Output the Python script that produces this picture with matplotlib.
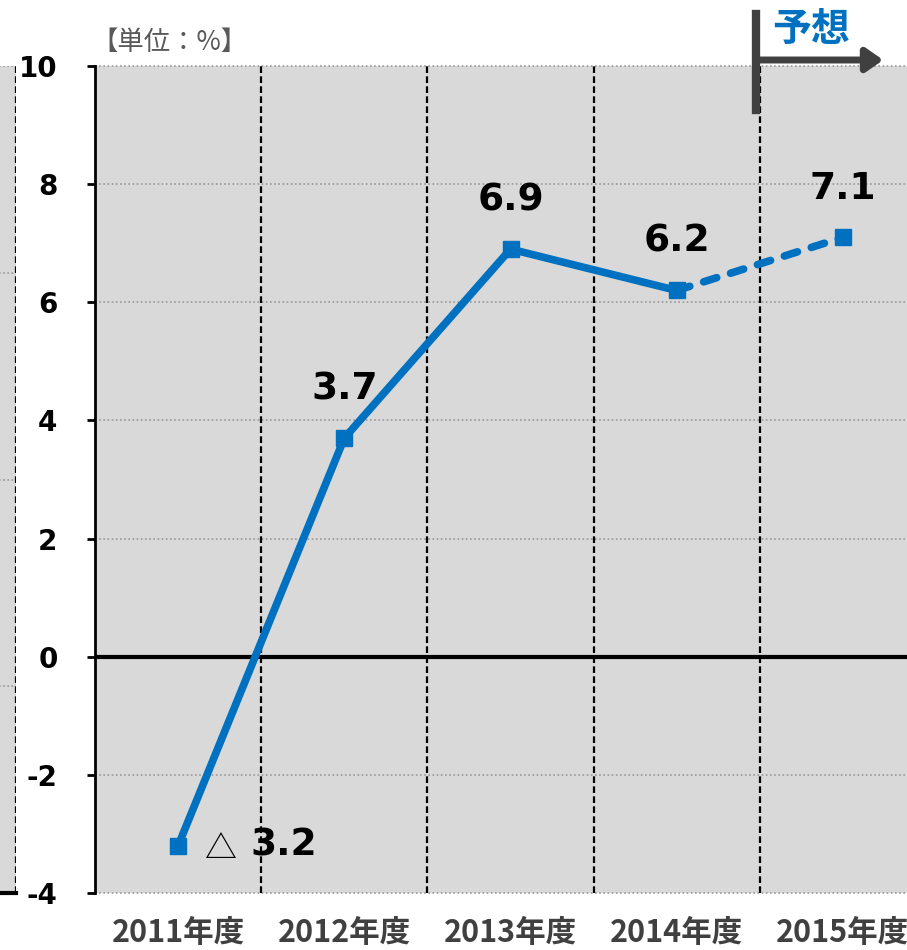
import numpy as np
import matplotlib
matplotlib.use("Agg")
import matplotlib.pyplot as plt

# data
years = ["2011年度", "2012年度", "2013年度", "2014年度", "2015年度"]
growth = [-3.2, 3.7, 6.9, 6.2, 7.1]
labels = ["3.2", "3.7", "6.9", "6.2", "7.1"]
yticks = [-4, -2, 0, 2, 4, 6, 8, 10]

blue = "#0070c0"
grey_bg = "#d9d9d9"
W, H = 907, 950

plt.rcParams['font.family'] = ['DejaVu Sans', 'Noto Sans CJK JP']

fig = plt.figure(figsize=(W / 100, H / 100), dpi=100)

# remnant of the neighbouring chart on the left edge
axl = fig.add_axes([-200 / W, 57 / H, 216 / W, 827 / H])
axl.set_facecolor(grey_bg)
axl.set_xlim(0, 1)
axl.set_ylim(0, 4)
for v in [1, 2, 3, 4]:
    axl.axhline(v, color="#999999", lw=1.2, ls=(0, (1, 1.5)))
axl.axvline(1, color="black", lw=1.6, ls=(0, (3, 1.5)))
for s in ["top", "left", "right"]:
    axl.spines[s].set_visible(False)
axl.spines["bottom"].set_linewidth(3)
axl.set_xticks([])
axl.set_yticks([])

# main chart
ax = fig.add_axes([95 / W, 57 / H, 831 / W, 827 / H])
ax.set_facecolor(grey_bg)
x = np.arange(len(years))
ax.set_xlim(-0.5, len(years) - 0.5)
ax.set_ylim(-4, 10)

for v in yticks:
    if v != 0:
        ax.axhline(v, color="#999999", lw=1.2, ls=(0, (1, 1.5)), zorder=1, clip_on=False)
for b in x[:-1] + 0.5:
    ax.axvline(b, color="black", lw=1.6, ls=(0, (3, 1.5)), zorder=1)
ax.axhline(0, color="black", lw=3, zorder=2)

ax.plot(x[:4], growth[:4], color=blue, lw=5.5, solid_capstyle="round", zorder=3)
ax.plot(x[3:], growth[3:], color=blue, lw=5.5, ls=(0, (1.8, 1.9)),
        dash_capstyle="round", zorder=3)
ax.plot(x, growth, ls="none", marker="s", ms=12, color=blue, zorder=4)

for i in range(1, len(x)):
    ax.annotate(labels[i], (x[i], growth[i]), xytext=(0, 35), textcoords="offset points",
                ha="center", va="center", fontsize=27, fontweight="bold")
ax.annotate("△", (x[0], growth[0]), xytext=(19, -2), textcoords="offset points",
            ha="left", va="center", fontsize=23, family=['Noto Sans CJK JP'])
ax.annotate(labels[0], (x[0], growth[0]), xytext=(52, 0), textcoords="offset points",
            ha="left", va="center", fontsize=27, fontweight="bold")

ax.set_yticks(yticks)
ax.set_yticklabels([str(v) for v in yticks], fontsize=20, fontweight="bold")
ax.tick_params(axis="y", length=6, width=2, pad=21)
ax.set_xticks(x)
ax.set_xticklabels(years, fontsize=22, fontweight="bold", color="#404040",
                   family=['Noto Sans CJK JP'])
ax.tick_params(axis="x", length=0, pad=17)

for s in ["top", "right", "bottom"]:
    ax.spines[s].set_visible(False)
ax.spines["left"].set_linewidth(2)

# unit note
fig.text(91 / W, 1 - 42 / H, "【単位：%】", fontsize=19, color="#595959",
         ha="left", va="center", family=['Noto Sans CJK JP'])

# forecast marker
fig.add_artist(plt.Line2D([756 / W, 756 / W], [1 - 14 / H, 1 - 110 / H],
                          color="#404040", lw=6, transform=fig.transFigure))
fig.patches.append(matplotlib.patches.FancyArrowPatch(
    (756 / W, 1 - 60 / H), (886 / W, 1 - 60 / H), transform=fig.transFigure,
    arrowstyle="-|>,head_length=10,head_width=7", color="#404040", lw=5,
    mutation_scale=1, figure=fig))
fig.text(811 / W, 1 - 30 / H, "予想", fontsize=28, fontweight="bold", color=blue,
         ha="center", va="center", family=['Noto Sans CJK JP'])

fig.savefig("out.png", dpi=100)
